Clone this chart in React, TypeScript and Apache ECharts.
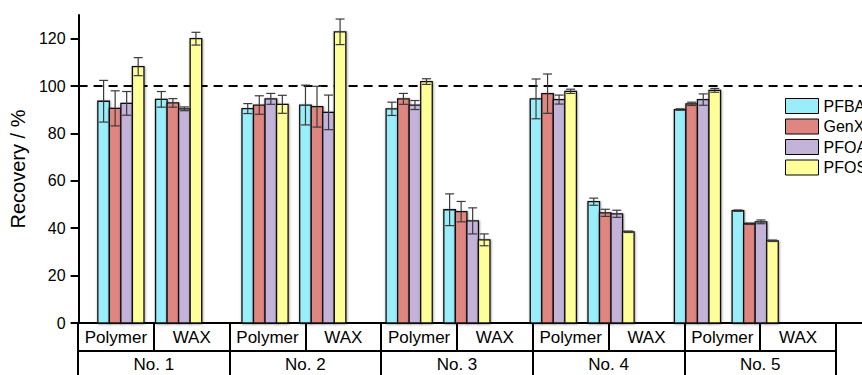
import React, { useEffect, useRef } from "react";
import * as echarts from "echarts";

const categories = ["Polymer", "WAX", "Polymer", "WAX", "Polymer", "WAX", "Polymer", "WAX", "Polymer", "WAX"];
const groups = ["No. 1", "No. 2", "No. 3", "No. 4", "No. 5"];
const seriesNames = ["PFBA", "GenX", "PFOA", "PFOS"];

const pfba = [93.6, 94.4, 90.5, 92.0, 90.4, 47.8, 94.6, 51.2, 90.1, 47.4];
const pfbaErr = [8.8, 3.3, 2.1, 8.4, 2.8, 6.7, 8.4, 1.5, 0.3, 0.3];
const genx = [90.6, 92.9, 92.0, 91.3, 94.6, 47.0, 96.8, 46.5, 92.5, 41.9];
const genxErr = [7.4, 1.8, 3.9, 8.6, 2.3, 4.3, 8.3, 1.5, 0.7, 0.3];
const pfoa = [92.7, 90.4, 94.6, 88.9, 92.0, 43.1, 94.3, 46.1, 94.3, 42.7];
const pfoaErr = [5.0, 0.8, 2.3, 7.3, 1.9, 5.5, 1.9, 1.5, 2.4, 0.8];
const pfos = [108.2, 120.0, 92.3, 122.9, 101.9, 35.1, 97.8, 38.5, 98.2, 34.7];
const pfosErr = [3.8, 2.7, 3.8, 5.4, 1.2, 2.5, 0.9, 0.3, 0.8, 0.3];

const yTicks = [0, 20, 40, 60, 80, 100, 120];
const yMinorTicks = [10, 30, 50, 70, 90, 110, 130];
const referenceLevel = 100;

const values = [pfba, genx, pfoa, pfos];
const errors = [pfbaErr, genxErr, pfoaErr, pfosErr];
const colors = ["#99EEFA", "#E08681", "#C3B3D9", "#FFFF9A"];

const FONT = "'Liberation Sans', Arial, Helvetica, sans-serif";
const BAR_W = 0.16; // in category units
const X_MAX = 10.87;

function barCenter(k: number, j: number) {
  const groupCenter = k + (k % 2 === 0 ? 0.587 : 0.388);
  return groupCenter + (j - 1.5) * BAR_W;
}

function makeRender(color: string) {
  return (params: any, api: any) => {
    const x = api.value(0);
    const v = api.value(1);
    const e = api.value(2);
    const p0 = api.coord([x - BAR_W / 2, 0]);
    const p1 = api.coord([x + BAR_W / 2, v]);
    const top = api.coord([x, v + e]);
    const bot = api.coord([x, v - e]);
    const cx = (p0[0] + p1[0]) / 2;
    const cap = 4.5;
    const errStyle = { stroke: "#3a3a3a", lineWidth: 1.2 };
    return {
      type: "group",
      children: [
        {
          type: "rect",
          shape: { x: p0[0], y: p1[1], width: p1[0] - p0[0], height: p0[1] - p1[1] },
          style: {
            fill: color,
            stroke: "#111",
            lineWidth: 1.3,
            shadowBlur: 2.5,
            shadowColor: "rgba(0,0,0,0.45)",
            shadowOffsetX: 0.5,
            shadowOffsetY: 0.5,
          },
        },
        { type: "line", shape: { x1: cx, y1: top[1], x2: cx, y2: bot[1] }, style: errStyle },
        { type: "line", shape: { x1: cx - cap, y1: top[1], x2: cx + cap, y2: top[1] }, style: errStyle },
        { type: "line", shape: { x1: cx - cap, y1: bot[1], x2: cx + cap, y2: bot[1] }, style: errStyle },
      ],
    };
  };
}

export default function App() {
  const ref = useRef<HTMLDivElement>(null);
  useEffect(() => {
    if (!ref.current) return;
    const chart = echarts.init(ref.current, undefined, { renderer: "svg" });
    const series: any[] = seriesNames.map((name, j) => ({
      name,
      type: "custom",
      xAxisIndex: 0,
      yAxisIndex: 0,
      z: 3,
      itemStyle: { color: colors[j], borderColor: "#000", borderWidth: 1 },
      renderItem: makeRender(colors[j]),
      encode: { x: 0, y: 1 },
      data: values[j].map((v, k) => [barCenter(k, j), v, errors[j][k]]),
      ...(j === 0
        ? {
            markLine: {
              z: 1,
              silent: true,
              symbol: ["none", "none"],
              label: { show: false },
              lineStyle: { color: "#000", type: [9, 6], width: 2 },
              data: [{ yAxis: referenceLevel }],
            },
          }
        : {}),
    }));

    chart.setOption({
      animation: false,
      backgroundColor: "#fff",
      textStyle: { fontFamily: FONT },
      legend: {
        orient: "vertical",
        left: 785,
        top: 98,
        padding: 0,
        itemWidth: 33,
        itemHeight: 15,
        itemGap: 4.5,
        icon: "rect",
        textStyle: { fontSize: 16, color: "#000", fontFamily: FONT },
        data: seriesNames.map((n, j) => ({
          name: n,
          itemStyle: { color: colors[j], borderColor: "#000", borderWidth: 1 },
        })),
      },
      grid: [
        { left: 78, top: 15, width: 824, height: 308 },
        { left: 78, top: 15, width: 758, height: 308 },
      ],
      xAxis: [
        {
          type: "value",
          gridIndex: 0,
          min: 0,
          max: X_MAX,
          axisLine: { show: true, onZero: false, lineStyle: { color: "#000", width: 2 } },
          axisTick: { show: false },
          axisLabel: { show: false },
          splitLine: { show: false },
        },
        {
          type: "category",
          gridIndex: 1,
          data: categories,
          position: "bottom",
          axisLine: { show: true, onZero: false, lineStyle: { color: "#000", width: 2 } },
          axisTick: { show: true, interval: 0, length: 28, lineStyle: { color: "#000", width: 2 } },
          axisLabel: { interval: 0, fontSize: 17, color: "#000", margin: 6, fontFamily: FONT },
        },
        {
          type: "category",
          gridIndex: 1,
          data: groups,
          position: "bottom",
          offset: 28,
          axisLine: { show: true, onZero: false, lineStyle: { color: "#000", width: 2 } },
          axisTick: { show: true, interval: 0, length: 30, lineStyle: { color: "#000", width: 2 } },
          axisLabel: { interval: 0, fontSize: 17, color: "#000", margin: 5, fontFamily: FONT },
        },
      ],
      yAxis: [
        {
          type: "value",
          gridIndex: 0,
          min: 0,
          max: 130,
          interval: 10,
          name: "Recovery / %",
          nameLocation: "middle",
          nameGap: 48,
          nameTextStyle: { fontSize: 20, color: "#000", fontFamily: FONT },
          axisLine: { show: true, lineStyle: { color: "#000", width: 2 } },
          axisTick: { show: true, length: 8, customValues: yTicks, lineStyle: { color: "#000", width: 2 } },
          axisLabel: {
            fontSize: 16,
            color: "#000",
            margin: 13,
            fontFamily: FONT,
            customValues: yTicks,
            formatter: (v: number) => (yTicks.indexOf(v) >= 0 ? String(v) : ""),
          },
          splitLine: { show: false },
        },
        {
          type: "value",
          gridIndex: 0,
          min: 0,
          max: 130,
          interval: 10,
          axisLine: { show: false },
          axisTick: { show: true, length: 4, customValues: yMinorTicks, lineStyle: { color: "#000", width: 2 } },
          axisLabel: { show: false },
          splitLine: { show: false },
        },
        {
          type: "value",
          gridIndex: 1,
          min: 0,
          max: 130,
          show: false,
        },
      ],
      series,
    });
    return () => chart.dispose();
  }, []);
  return (
    <div
      ref={ref}
      style={{ position: "fixed", left: 0, top: 0, width: 862, height: 375, background: "#fff" }}
    />
  );
}
